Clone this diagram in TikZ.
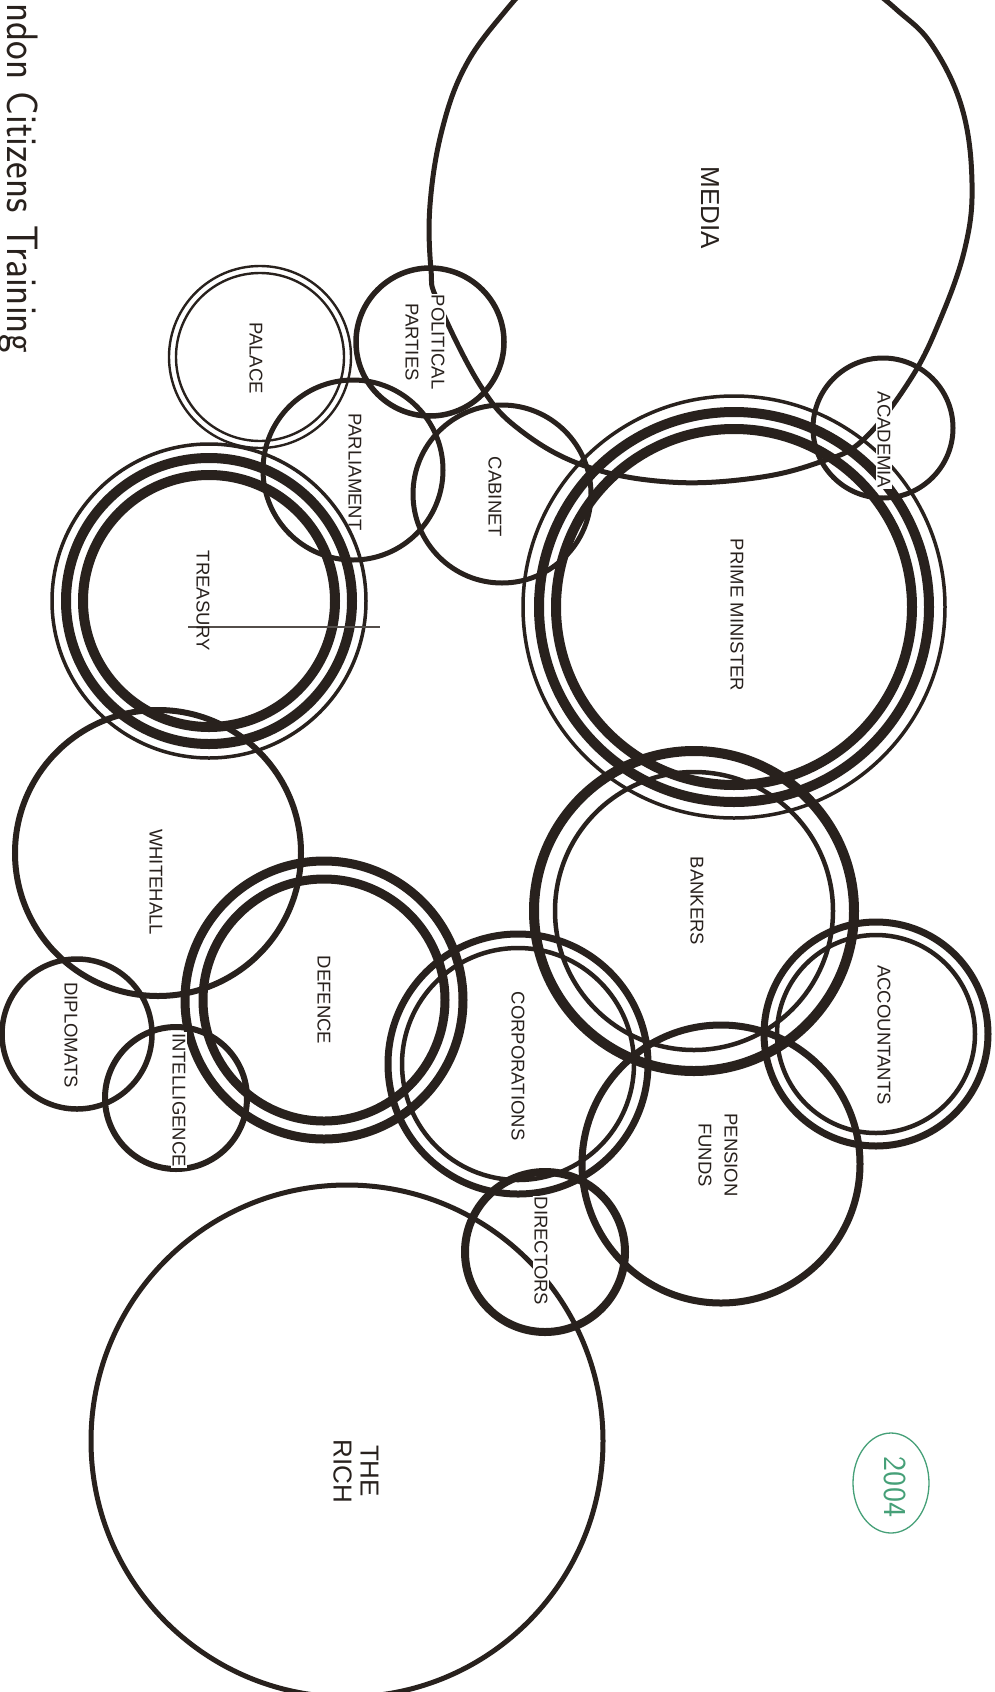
\documentclass[tikz,border=0pt]{standalone}
\usepackage{fontspec}
\setmainfont{Liberation Sans}
\definecolor{ink}{RGB}{40,33,29}
\definecolor{stamp}{RGB}{70,160,120}
\tikzset{
  ring/.style={draw=ink, line width=#1},
  lbl/.style={font=\fontsize{18.5}{26}\selectfont, rotate=-90, align=center, text=ink, inner sep=1pt},
  cut/.style={fill=white},
  big/.style={font=\fontsize{26}{27}\selectfont}
}
\begin{document}
\begin{tikzpicture}[x=1pt,y=-1pt]
\fill[white] (0,0) rectangle (994,1692);
\useasboundingbox (0,0) rectangle (994,1692);
\clip (0,0) rectangle (994,1692);

% MEDIA (irregular blob)
\draw[ink, line width=5pt] plot[smooth, tension=0.65] coordinates {(552,-40) (507,9) (466,65) (442,130) (430,205) (431,270) (438,302) (480,385) (520,430) (585,466) (669,482) (755,478) (820,462) (863,440) (910,380) (940,320) (965,248) (972,183) (962,108) (932,45) (897,10) (862,-18) (830,-40)};

% ACADEMIA
\draw[ring=5pt] (883,428) circle (70);
% POLITICAL PARTIES
\draw[ring=5.5pt] (430,342) circle (74);
% PALACE
\draw[ring=2.4pt] (260,357) circle (91);
\draw[ring=2.4pt] (260,357) circle (84);
% PARLIAMENT
\draw[ring=5pt] (353,470) circle (90);
% CABINET
\draw[ring=5pt] (502,494) circle (89);
% PRIME MINISTER
\draw[ring=3.5pt] (734,607) circle (211);
\draw[ring=10pt] (734,607) circle (195);
\draw[ring=10pt] (734,607) circle (178);
% TREASURY
\draw[ring=3.5pt] (209,601) circle (157);
\draw[ring=10pt] (209,601) circle (143);
\draw[ring=10pt] (209,601) circle (126);
% WHITEHALL
\draw[ring=6pt] (158,853) circle (143);
% BANKERS
\draw[ring=10pt] (694,911) circle (160);
\draw[ring=4.5pt] (694,911) circle (139);
% ACCOUNTANTS
\draw[ring=7pt] (876,1034) circle (112);
\draw[ring=4.5pt] (876,1034) circle (99);
% DEFENCE
\draw[ring=9pt] (324,1000) circle (139);
\draw[ring=9pt] (324,1000) circle (121);
% CORPORATIONS
\draw[ring=7pt] (518,1064) circle (130);
\draw[ring=4.5pt] (518,1064) circle (116);
% PENSION FUNDS
\draw[ring=7pt] (721,1164) circle (139);
% DIPLOMATS
\draw[ring=5.5pt] (77,1034) circle (75);
% INTELLIGENCE
\draw[ring=6pt] (176,1098) circle (71);
% DIRECTORS
\draw[ring=8pt] (545,1252) circle (80);
% THE RICH
\draw[ring=5pt] (347,1441) circle (256);

% stray thin line across Treasury
\draw[ink!80, line width=1.2pt] (188,627) -- (380,627);

% labels
\node[lbl, big] (media) at (710,208) {MEDIA};
\node[lbl, cut] (academia) at (884,440) {ACADEMIA};
\node[lbl, cut] (parties) at (425,342) {POLITICAL\\PARTIES};
\node[lbl] (palace) at (256,358) {PALACE};
\node[lbl] (parliament) at (355,472) {PARLIAMENT};
\node[lbl] (cabinet) at (495,497) {CABINET};
\node[lbl] (pm) at (737,615) {PRIME MINISTER};
\node[lbl] (treasury) at (203,601) {TREASURY};
\node[lbl] (whitehall) at (156,882) {WHITEHALL};
\node[lbl] (bankers) at (697,901) {BANKERS};
\node[lbl] (accountants) at (884,1035) {ACCOUNTANTS};
\node[lbl] (defence) at (324,1000) {DEFENCE};
\node[lbl] (corporations) at (518,1066) {CORPORATIONS};
\node[lbl] (pension) at (718,1155) {PENSION\\FUNDS};
\node[lbl] (diplomats) at (71,1035) {DIPLOMATS};
\node[lbl, cut] (intelligence) at (179,1100) {INTELLIGENCE};
\node[lbl, cut] (directors) at (541,1251) {DIRECTORS};
\node[lbl, big] (rich) at (356,1471) {THE\\RICH};

% handwritten header
\node[rotate=-90, anchor=base west, inner sep=0pt, text=ink, font=\sffamily\fontsize{44}{44}\selectfont] (hand) at (8,3) {\scalebox{0.9}[1]{ndon Citizens Training}};

% 2004 stamp
\draw[stamp, line width=1.3pt] (891,1483) ellipse (38 and 50);
\node[rotate=-90, text=stamp, font=\sffamily\fontsize{32}{32}\selectfont] (year) at (895,1487) {2004};
\end{tikzpicture}
\end{document}
